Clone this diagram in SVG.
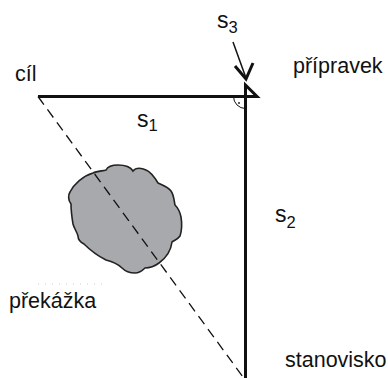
<svg xmlns="http://www.w3.org/2000/svg" width="388" height="378" viewBox="0 0 388 378">
<style>
text{font-family:"Liberation Sans",Arial,sans-serif;fill:#111}
.lbl{font-size:21.5px}
.s{font-size:23px}
.sub{font-size:16.5px}
.thick{stroke:#111;stroke-width:3;fill:none}
</style>
<rect width="388" height="378" fill="#fff"/>
<g id="obstacle">
<path d="M93,173 C97,171 103,171 106,170 C108,166 113,165 118,165 C124,165 130,166 133,171 C136,167 142,168 146,170 C151,172 155,178 158,183 C162,185 168,187 171,191 C174,195 174,201 175,205 C178,208 180,212 181,217 C182,223 182,230 180,236 C178,239 175,240 172,242 C171,250 166,258 159,263 C155,266 150,268 145,268 C143,270 140,273 135,273 C130,273 125,271 122,268 C117,263 110,261 106,260 C98,256 90,250 84,244 C80,242 78,240 78,236 C77,232 74,228 73,224 C72,218 71,210 71,204 C68,200 68,195 70,192 C74,184 83,176 93,173 Z" fill="#a7a9ac" stroke="#222" stroke-width="1.6"/>
</g>
<g id="connectors">
<line x1="38" y1="96.5" x2="243" y2="377" stroke="#111" stroke-width="1.3" stroke-dasharray="10 6"/>
<line class="thick" x1="38" y1="96.5" x2="245.5" y2="96.5"/>
<line class="thick" x1="245.5" y1="85" x2="245.5" y2="378"/>
<polygon class="thick" points="245.5,85 257,96.5 245.5,96.5" stroke-linejoin="miter"/>
<path d="M233.5,96.5 A12,12 0 0 0 245.5,108.5" fill="none" stroke="#111" stroke-width="1"/>
<circle cx="239" cy="103" r="0.9" fill="#111"/>
<line x1="233" y1="42" x2="246" y2="78" stroke="#111" stroke-width="1.5"/>
<polyline class="thick" points="235,66 246,79 253,63"/>
<line x1="38" y1="284" x2="103" y2="284" stroke="#ccc" stroke-width="1" stroke-dasharray="1 6"/>
</g>
<g id="labels">
<text class="lbl" x="15" y="81">cíl</text>
<text class="lbl" x="293" y="73">přípravek</text>
<text class="lbl" x="9" y="308">překážka</text>
<text class="lbl" x="285" y="367">stanovisko</text>
<text x="217" y="28"><tspan class="s">s</tspan><tspan class="sub" dy="5">3</tspan></text>
<text x="137" y="127"><tspan class="s">s</tspan><tspan class="sub" dy="4">1</tspan></text>
<text x="275" y="222"><tspan class="s">s</tspan><tspan class="sub" dy="6">2</tspan></text>
</g>
</svg>
